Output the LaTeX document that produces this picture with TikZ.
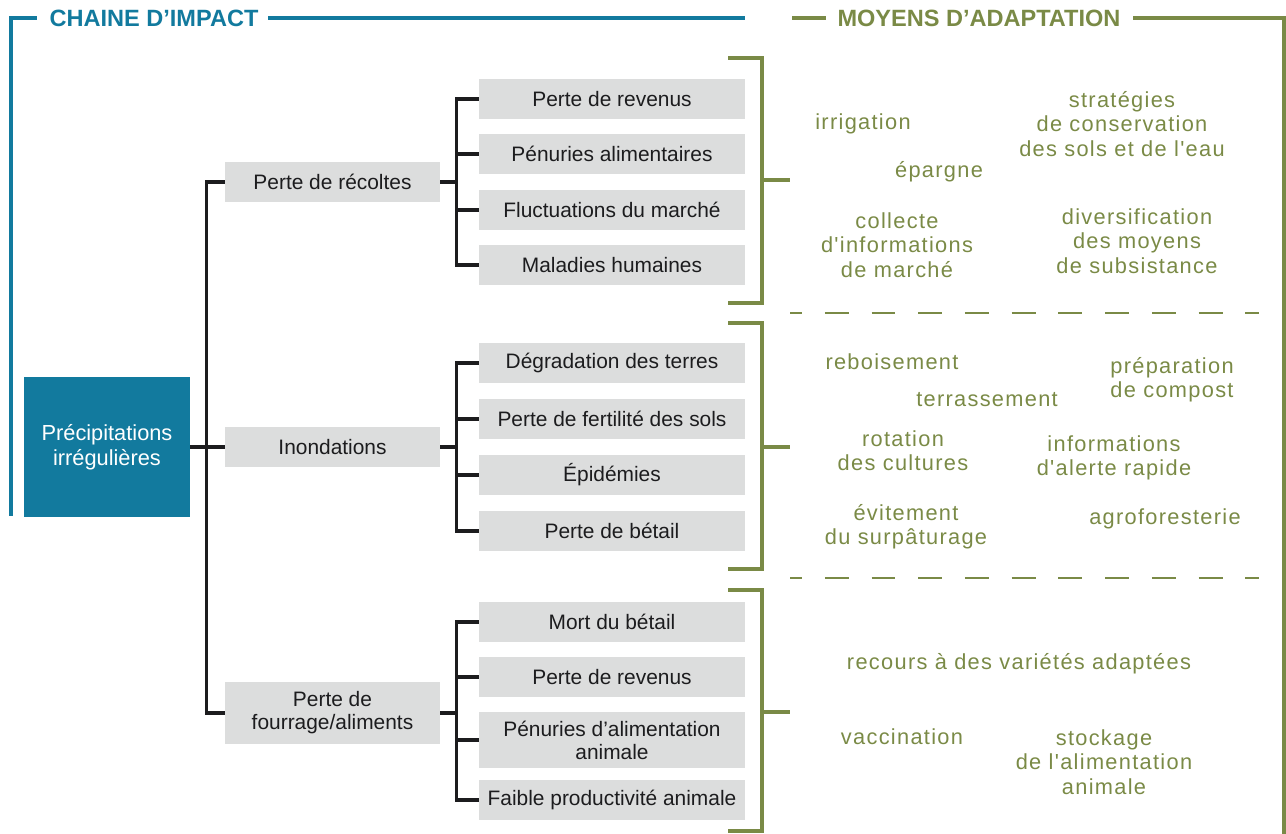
\documentclass[tikz,border=0pt]{standalone}
\usepackage{fontspec}
\setmainfont{Liberation Sans}
\newfontfamily\adaptfont[LetterSpace=6]{Liberation Sans}
\usetikzlibrary{positioning}
\definecolor{impblue}{RGB}{18,122,158}
\definecolor{adaptgreen}{RGB}{122,138,70}
\definecolor{boxgrey}{RGB}{220,221,221}
\definecolor{linkblack}{RGB}{28,28,30}

\begin{document}
\begin{tikzpicture}[
  x=0.02cm, y=-0.02cm,
  font=\fontsize{11.9}{13}\selectfont,
  rootbox/.style={fill=impblue, text=white, minimum width=3.32cm, minimum height=2.8cm, align=center, inner sep=0pt, font=\fontsize{12.4}{14.2}\selectfont},
  causebox/.style={fill=boxgrey, text=linkblack, minimum width=4.3cm, minimum height=0.8cm, align=center, inner sep=0pt},
  effectbox/.style={fill=boxgrey, text=linkblack, minimum width=5.32cm, minimum height=0.8cm, align=center, inner sep=0pt},
  link/.style={draw=linkblack, line width=2pt},
  bracket/.style={draw=adaptgreen, line width=2pt},
  sep/.style={draw=adaptgreen, line width=1.2pt, dash pattern=on 13.6pt off 13pt, dash phase=6.8pt},
  heading/.style={font=\fontsize{13.4}{15}\selectfont\bfseries, inner sep=0pt},
  measure/.style={text=adaptgreen, font=\adaptfont\fontsize{12.4}{13.9}\selectfont, align=center, inner sep=0pt}
]
\useasboundingbox (0,0) rectangle (1286,834);

\node[heading, text=impblue] (chain) at (154,18) {CHAINE D’IMPACT};
\node[heading, text=adaptgreen] (means) at (979,18) {MOYENS D’ADAPTATION};
\draw[impblue, line width=2pt] (11,516) -- (11,18) -- (37,18);
\draw[impblue, line width=2pt] (268,18) -- (745,18);
\draw[bracket] (792,18) -- (826,18);
\draw[bracket] (1133,18) -- (1284,18) -- (1284,834);

\node[rootbox] (rain) at (107,447) {Précipitations\\irrégulières};

\node[causebox] (crops) at (332.5,182) {Perte de récoltes};
\node[causebox] (flood) at (332.5,447) {Inondations};
\node[causebox, minimum height=1.24cm] (fodder) at (332.5,713) {Perte de\\fourrage/aliments};

\node[effectbox] (e11) at (612,99) {Perte de revenus};
\node[effectbox] (e12) at (612,154) {Pénuries alimentaires};
\node[effectbox] (e13) at (612,210) {Fluctuations du marché};
\node[effectbox] (e14) at (612,265) {Maladies humaines};

\node[effectbox] (e21) at (612,363) {Dégradation des terres};
\node[effectbox] (e22) at (612,419) {Perte de fertilité des sols};
\node[effectbox] (e23) at (612,475) {Épidémies};
\node[effectbox] (e24) at (612,531) {Perte de bétail};

\node[effectbox] (e31) at (612,622) {Mort du bétail};
\node[effectbox] (e32) at (612,677) {Perte de revenus};
\node[effectbox, minimum height=1.12cm] (e33) at (612,740) {Pénuries d’alimentation\\animale};
\node[effectbox] (e34) at (612,800) {Faible productivité animale};

\draw[link] (rain.east) -- ++(16,0) |- (crops.west);
\draw[link] (rain.east) -- ++(16,0) |- (fodder.west);
\draw[link] (rain.east) -- (flood.west);

\foreach \n in {e11,e12,e13,e14}
  \draw[link] (crops.east) -- ++(16,0) |- (\n.west);
\foreach \n in {e21,e22,e23,e24}
  \draw[link] (flood.east) -- ++(16,0) |- (\n.west);
\foreach \n in {e31,e32,e33,e34}
  \draw[link] (fodder.east) -- ++(16,0) |- (\n.west);

\draw[bracket] (728,58) -- (762,58) -- (762,303) -- (728,303);
\draw[bracket] (762,180) -- (790,180);
\draw[bracket] (728,323) -- (762,323) -- (762,569) -- (728,569);
\draw[bracket] (762,447) -- (790,447);
\draw[bracket] (728,590) -- (762,590) -- (762,831) -- (728,831);
\draw[bracket] (762,712) -- (790,712);

\draw[sep] (790,313) -- (1259,313);
\draw[sep] (790,578) -- (1259,578);

\node[measure] (irrig) at (863,124) {irrigation};
\node[measure] (soil) at (1122,124) {stratégies\\de conservation\\des sols et de l'eau};
\node[measure] (save) at (939,172) {épargne};
\node[measure] (market) at (897,245) {collecte\\d'informations\\de marché};
\node[measure] (divers) at (1137,241) {diversification\\des moyens\\de subsistance};

\node[measure] (refor) at (892,362) {reboisement};
\node[measure] (compost) at (1172,380) {préparation\\de compost};
\node[measure] (terrace) at (987,400) {terrassement};
\node[measure] (rotat) at (903,451) {rotation\\des cultures};
\node[measure] (alert) at (1114,458) {informations\\d'alerte rapide};
\node[measure] (graze) at (906,527) {évitement\\du surpâturage};
\node[measure] (agro) at (1165,519) {agroforesterie};

\node[measure] (variety) at (1019,664) {recours à des variétés adaptées};
\node[measure] (vacc) at (902,737) {vaccination};
\node[measure] (store) at (1104,762) {stockage\\de l'alimentation\\animale};
\end{tikzpicture}
\end{document}
